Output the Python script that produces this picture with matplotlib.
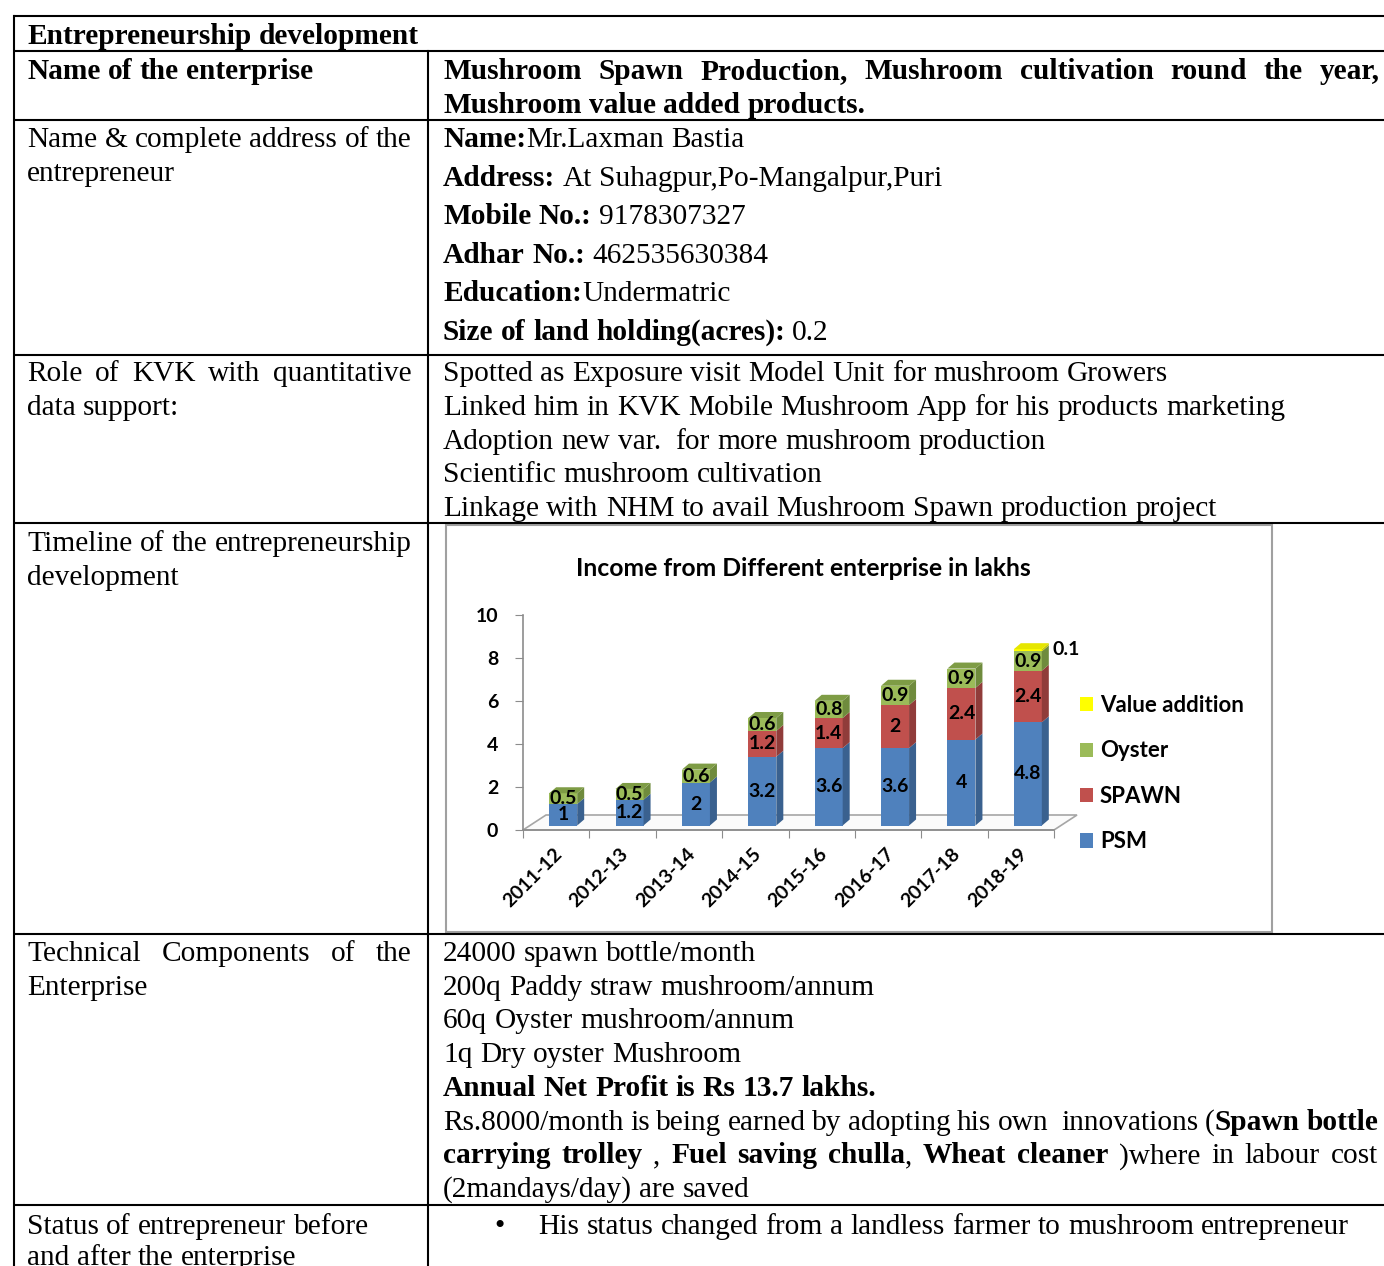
import matplotlib
matplotlib.use("Agg")
import matplotlib.pyplot as plt
from matplotlib.patches import Polygon, Rectangle, Patch
from matplotlib.transforms import ScaledTranslation
import numpy as np

# chart data (lakhs)
years = ["2011-12", "2012-13", "2013-14", "2014-15",
         "2015-16", "2016-17", "2017-18", "2018-19"]
psm = [1, 1.2, 2, 3.2, 3.6, 3.6, 4, 4.8]
spawn = [0, 0, 0, 1.2, 1.4, 2, 2.4, 2.4]
oyster = [0.5, 0.5, 0.6, 0.6, 0.8, 0.9, 0.9, 0.9]
value_addition = [0, 0, 0, 0, 0, 0, 0, 0.1]
series_names = ["PSM", "SPAWN", "Oyster", "Value addition"]
chart_title = "Income from Different enterprise in lakhs"

# (front, side, top) colours per series
colors = [("#4F81BD", "#3A618F", "#6D97CB"),
          ("#C0504D", "#903C3A", "#CF6C69"),
          ("#9BBB59", "#6F8B3D", "#7E9C45"),
          ("#FFFF00", "#C9C900", "#E6E600")]

# table text
heading = "Entrepreneurship development"
left_cells = [
    (["Name of the enterprise"], True),
    (["Name & complete address of the", "entrepreneur"], False),
    (["Role of KVK with quantitative", "data support:"], False),
    (["Timeline of the entrepreneurship", "development"], False),
    (["Technical Components of the", "Enterprise"], False),
    (["Status of entrepreneur before", "and after the enterprise"], False),
]
enterprise_lines = [
    [("Mushroom Spawn Production, Mushroom cultivation round the year,", True)],
    [("Mushroom value added products.", True)],
]
address_lines = [
    [("Name:", True), ("Mr.Laxman Bastia", False)],
    [("Address:", True), (" At Suhagpur,Po-Mangalpur,Puri", False)],
    [("Mobile No.:", True), (" 9178307327", False)],
    [("Adhar No.:", True), (" 462535630384", False)],
    [("Education:", True), ("Undermatric", False)],
    [("Size of land holding(acres):", True), (" 0.2", False)],
]
role_lines = [
    "Spotted as Exposure visit Model Unit for mushroom Growers",
    "Linked him in KVK Mobile Mushroom App for his products marketing",
    "Adoption new var.  for more mushroom production",
    "Scientific mushroom cultivation",
    "Linkage with NHM to avail Mushroom Spawn production project",
]
tech_lines = [
    [("24000 spawn bottle/month", False)],
    [("200q Paddy straw mushroom/annum", False)],
    [("60q Oyster mushroom/annum", False)],
    [("1q Dry oyster Mushroom", False)],
    [("Annual Net Profit is Rs 13.7 lakhs.", True)],
    [("Rs.8000/month is being earned by adopting his own  innovations (", False),
     ("Spawn bottle", True)],
    [("carrying trolley", True), (" , ", False), ("Fuel saving chulla", True),
     (", ", False), ("Wheat cleaner", True), (" )where in labour cost", False)],
    [("(2mandays/day) are saved", False)],
]
status_text = "His status changed from a landless farmer to mushroom entrepreneur"

W, H = 1384, 1266
fig = plt.figure(figsize=(W / 100, H / 100), dpi=100)
tab = fig.add_axes([0, 0, 1, 1])
tab.set_xlim(0, W)
tab.set_ylim(H, 0)
tab.axis("off")
renderer = fig.canvas.get_renderer()

SERIF = "Liberation Serif"
FS = 21.2


def width_of(s, bold):
    if not s:
        return 0.0
    t = tab.text(0, 0, s, fontsize=FS, family=SERIF,
                 weight="bold" if bold else "normal")
    w = t.get_window_extent(renderer).width
    t.remove()
    return w


def draw_line(x, y, segs, right=None):
    # words split on single spaces; an empty word keeps a double space
    words = [[]]
    for text, bold in segs:
        for k, part in enumerate(text.split(" ")):
            if k > 0:
                words.append([])
            if part:
                words[-1].append((part, bold))
    while words and not words[0]:
        words.pop(0)
    while words and not words[-1]:
        words.pop()
    widths = [sum(width_of(p, b) for p, b in w) for w in words]
    bold0 = words[0][0][1]
    gap = width_of("a a", bold0) - width_of("aa", bold0)
    if right is not None and len(words) > 1:
        gap = (right - x - sum(widths)) / (len(words) - 1)
    for w, ww in zip(words, widths):
        xx = x
        for p, b in w:
            tab.text(xx, y, p, fontsize=FS, family=SERIF,
                     weight="bold" if b else "normal", ha="left", va="baseline")
            xx += width_of(p, b)
        x += ww + gap


# grid
LX, MX = 14, 428
row_lines = [16, 51, 120, 355, 523, 934, 1205]
for yy in row_lines:
    tab.plot([LX - 1, W], [yy, yy], color="black", lw=1.5, solid_capstyle="butt")
tab.plot([LX, LX], [16, H], color="black", lw=1.5)
tab.plot([MX, MX], [51, H], color="black", lw=1.5)

L0, R0 = 27, 443
draw_line(L0, 44, [(heading, True)])

left_base = [79, 147, 381, 551, 961, 1234]
left_justify = [False, True, True, False, True, False]
left_step = [33, 34, 34, 34, 34, 31]
for (lines, bold), yb, jf, st in zip(left_cells, left_base, left_justify, left_step):
    for k, ln in enumerate(lines):
        draw_line(L0, yb + k * st, [(ln, bold)],
                  right=412 if (jf and k == 0) else None)

draw_line(R0, 79, enterprise_lines[0], right=1380)
draw_line(R0, 113, enterprise_lines[1])
for k, segs in enumerate(address_lines):
    draw_line(R0, 147 + k * 38.6, segs)
for k, ln in enumerate(role_lines):
    draw_line(R0, 381 + k * 33.8, [(ln, False)])
for k, segs in enumerate(tech_lines):
    draw_line(R0, 961 + k * 33.7, segs,
              right=1378 if k in (5, 6) else None)
tab.text(494, 1234, "\u2022", fontsize=FS, family=SERIF, ha="left", va="baseline")
draw_line(538, 1234, [(status_text, False)])

# chart frame
tab.add_patch(Rectangle((446, 525), 826, 407, facecolor="white",
                        edgecolor="#A0A0A0", lw=1.5))
tab.text(803, 576, chart_title, fontsize=17.8, family="Lato", weight="bold",
         ha="center", va="baseline")

# chart axes
AX_L, AX_R, AX_T, AX_B = 523, 1054, 615, 830
ax = fig.add_axes([AX_L / W, 1 - AX_B / H, (AX_R - AX_L) / W, (AX_B - AX_T) / H])
ax.set_facecolor("none")
ax.set_xlim(-0.5, len(years) - 0.5)
ax.set_ylim(0, 10)
XPPU = (AX_R - AX_L) / len(years)
YPPU = (AX_B - AX_T) / 10.0

for s in ["top", "right"]:
    ax.spines[s].set_visible(False)
for s in ["left", "bottom"]:
    ax.spines[s].set_color("#8C8C8C")
    ax.spines[s].set_linewidth(1.2)

ax.set_yticks(np.arange(0, 11, 2))
ax.tick_params(axis="y", direction="out", length=6, color="#8C8C8C",
               labelsize=14, pad=12)
ax.set_xticks(np.arange(-0.5, len(years), 1))
ax.set_xticklabels([])
ax.tick_params(axis="x", which="major", direction="out", length=6, color="#8C8C8C")
ax.set_xticks(np.arange(len(years)), minor=True)
ax.set_xticklabels(years, minor=True, rotation=45, ha="right", va="center",
                   rotation_mode="anchor")
ax.tick_params(axis="x", which="minor", length=0, labelsize=14, pad=15)
shift = ScaledTranslation(3 / 100, 0, fig.dpi_scale_trans)
for lab in ax.get_xticklabels(minor=True) + ax.get_yticklabels():
    lab.set_fontfamily("Lato")
    lab.set_fontweight("bold")
for lab in ax.get_xticklabels(minor=True):
    lab.set_transform(lab.get_transform() + shift)

# floor
FDX, FDY = 23 / XPPU, 15 / YPPU
x0, x1 = -0.5, len(years) - 0.5
ax.add_patch(Polygon([(x0, 0), (x1, 0), (x1 + FDX, FDY), (x0 + FDX, FDY)],
                     closed=True, facecolor="#FBFBFB", edgecolor="#A6A6A6",
                     lw=1.2, clip_on=False, zorder=1))

# 3d stacked columns
BW = 28 / XPPU
SX, SY = 7 / XPPU, 4.5 / YPPU   # front-face offset from the floor edge
DX, DY = 7 / XPPU, 6 / YPPU     # column depth
LABEL_FS = 14
series = [psm, spawn, oyster, value_addition]
totals = np.sum(series, axis=0)
for i in range(len(years)):
    xl = i - BW / 2 + SX
    xr = xl + BW
    bottom = SY
    for j, vals in enumerate(series):
        v = vals[i]
        if v <= 0:
            continue
        front, side, top = colors[j]
        y0, y1 = bottom, bottom + v
        ax.add_patch(Rectangle((xl, y0), BW, v, facecolor=front,
                               edgecolor="none", zorder=3, clip_on=False))
        ax.add_patch(Polygon([(xr, y0), (xr + DX, y0 + DY), (xr + DX, y1 + DY), (xr, y1)],
                             closed=True, facecolor=side, edgecolor="none",
                             zorder=3, clip_on=False))
        if abs(y1 - (totals[i] + SY)) < 1e-9:
            ax.add_patch(Polygon([(xl, y1), (xr, y1), (xr + DX, y1 + DY), (xl + DX, y1 + DY)],
                                 closed=True, facecolor=top, edgecolor="none",
                                 zorder=3, clip_on=False))
        if v < 0.3:
            ax.text(xr + DX + 4 / XPPU, y1, f"{v:g}", fontsize=LABEL_FS, family="Lato",
                    weight="bold", ha="left", va="center", zorder=5)
        else:
            ax.text((xl + xr) / 2, (y0 + y1) / 2, f"{v:g}", fontsize=LABEL_FS,
                    family="Lato", weight="bold", ha="center", va="center", zorder=5)
        bottom = y1

handles = [Patch(facecolor=colors[j][0]) for j in range(3, -1, -1)]
ax.legend(handles, series_names[::-1], loc="upper left",
          bbox_to_anchor=(1080 / W, 1 - 695 / H), bbox_transform=fig.transFigure,
          frameon=False, prop=dict(family="Lato", weight="bold", size=16),
          handlelength=0.6, handleheight=0.6, handletextpad=0.3,
          labelspacing=1.1, borderpad=0, borderaxespad=0)

fig.savefig("out.png", dpi=100)
